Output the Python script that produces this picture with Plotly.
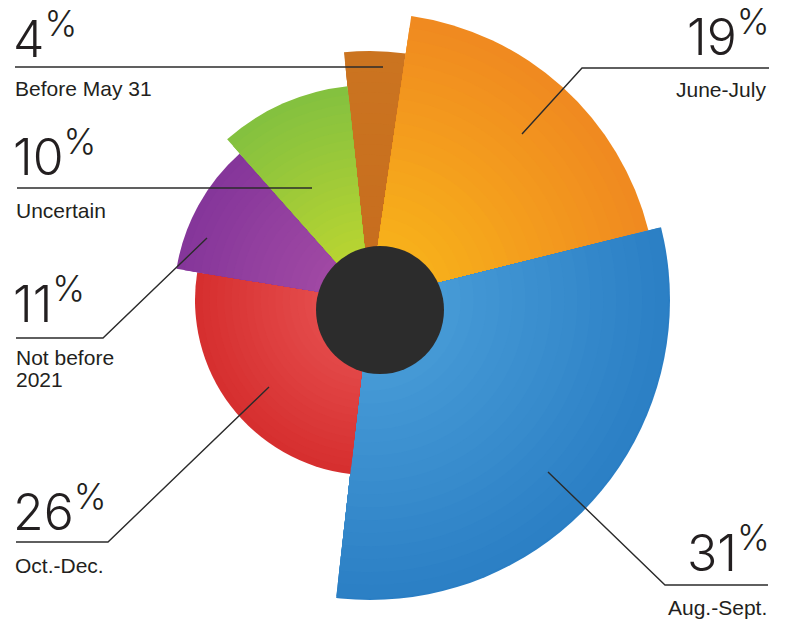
import plotly.graph_objects as go

# ---------------- data ----------------
categories = ["Before May 31", "June-July", "Aug.-Sept.", "Oct.-Dec.", "Not before 2021", "Uncertain"]
percent = [4, 19, 31, 26, 11, 10]
pct_text = ["4", "19", "31", "26", "11", "10"]
# spiral radius of each slice (in px)
slice_radius = [249, 287, 311, 175, 196, 215]

# ---------------- styling ----------------
W, H = 786, 625
CX, CY = 370, 300          # centre of the wedges (px)
RMAX = 300                 # polar radius in px (radial axis range = px units)
START = -6.0               # angle where the first slice starts (clockwise from top)

inner_colors = ["#c66c1e", "#f9b919", "#4ea2db", "#ea5757", "#a94fa7", "#c6d92e"]
outer_colors = ["#cb7420", "#f08a20", "#2a7ec4", "#d62f2f", "#85369a", "#84c13f"]
NBANDS = 24


def hex2rgb(h):
    h = h.lstrip("#")
    return [int(h[i:i + 2], 16) for i in (0, 2, 4)]


def mix(c1, c2, t):
    a, b = hex2rgb(c1), hex2rgb(c2)
    return "rgb(%d,%d,%d)" % tuple(round(a[i] + (b[i] - a[i]) * t) for i in range(3))


def px(x):
    return x / W


def py(y):
    return 1 - y / H


total = sum(percent)
spans = [p / total * 360 for p in percent]
mids = []
acc = START
for s in spans:
    mids.append(acc + s / 2)
    acc += s

# gradient bands (outer first, inner drawn on top)
r_vals, t_vals, w_vals, c_vals = [], [], [], []
for i in range(len(percent)):
    for k in range(NBANDS):
        frac = 1 - k / NBANDS
        r_vals.append(slice_radius[i] * frac)
        t_vals.append(mids[i])
        w_vals.append(spans[i])
        c_vals.append(mix(outer_colors[i], inner_colors[i], k / (NBANDS - 1)))

fig = go.Figure()
fig.add_trace(go.Barpolar(
    r=r_vals, theta=t_vals, width=w_vals,
    marker=dict(color=c_vals, line=dict(width=0)),
    hoverinfo="skip", showlegend=False,
))
# helper trace: disables clipping so the largest slice may exceed the frame
fig.add_trace(go.Scatterpolar(
    r=[0], theta=[0], mode="markers", marker=dict(opacity=0, size=1),
    cliponaxis=False, hoverinfo="skip", showlegend=False,
))

fig.update_layout(
    width=W, height=H, autosize=False,
    margin=dict(l=0, r=0, t=0, b=0),
    paper_bgcolor="white", plot_bgcolor="white",
    showlegend=False,
    polar=dict(
        domain=dict(x=[px(CX - RMAX), px(CX + RMAX)], y=[py(CY + RMAX), py(CY - RMAX)]),
        bgcolor="rgba(0,0,0,0)",
        bargap=0,
        barmode="overlay",
        angularaxis=dict(visible=False, rotation=90, direction="clockwise",
                         showgrid=False, showline=False, showticklabels=False, ticks=""),
        radialaxis=dict(visible=False, range=[0, RMAX], showgrid=False,
                        showline=False, showticklabels=False, ticks=""),
    ),
)

shapes = []
# central black disc
shapes.append(dict(type="circle", xref="paper", yref="paper",
                   x0=px(316), x1=px(444), y0=py(374), y1=py(246),
                   fillcolor="#2c2c2c", line=dict(width=0), layer="above"))


def leader(points):
    d = "M " + " L ".join("%f,%f" % (px(x), py(y)) for x, y in points)
    return dict(type="path", xref="paper", yref="paper", path=d,
                line=dict(color="#2b2b2b", width=1.4), layer="above")


leaders = [
    [(15, 67), (383, 67)],
    [(769, 68), (582, 68), (522, 134)],
    [(17, 188), (312, 188)],
    [(16, 338), (103, 338), (207, 238)],
    [(16, 542), (108, 542), (269, 387)],
    [(768, 585), (665, 585), (548, 472)],
]
for pts in leaders:
    shapes.append(leader(pts))
fig.update_layout(shapes=shapes)

NUMSIZE = 50
NUMFONT = dict(family="Inter", size=NUMSIZE, color="#231f20", weight=300)
LABSIZE = 21
LABFONT = dict(family="Liberation Sans", size=LABSIZE, color="#231f20")

# (index, anchor side, x, baseline of digits, label lines)
layout_info = [
    (0, "left", 11, 55, [("left", 13, 95, "Before May 31")]),
    (1, "right", 772, 53, [("right", 768, 96, "June-July")]),
    (2, "right", 772, 569, [("right", 769, 614, "Aug.-Sept.")]),
    (3, "left", 11, 528, [("left", 13, 572, "Oct.-Dec.")]),
    (4, "left", 11, 320, [("left", 14, 364, "Not before"), ("left", 14, 386, "2021")]),
    (5, "left", 11, 173, [("left", 14, 217, "Uncertain")]),
]

anns = []
for idx, side, dx, base, labels in layout_info:
    txt = pct_text[idx] + "<sup style='font-size:27px'>%</sup>"
    anns.append(dict(text=txt, x=px(dx), y=py(base - 8 - 1 - 0.928 * NUMSIZE),
                     xref="paper", yref="paper", xanchor=side, yanchor="top",
                     showarrow=False, font=NUMFONT))
    for lside, lx, lbase, ltext in labels:
        anns.append(dict(text=ltext, x=px(lx), y=py(lbase - 1 - 0.905 * LABSIZE),
                         xref="paper", yref="paper", xanchor=lside, yanchor="top",
                         showarrow=False, font=LABFONT))
fig.update_layout(annotations=anns)

fig.write_html("out.html", config={"displayModeBar": False},
               post_script="document.body.style.margin='0';")
